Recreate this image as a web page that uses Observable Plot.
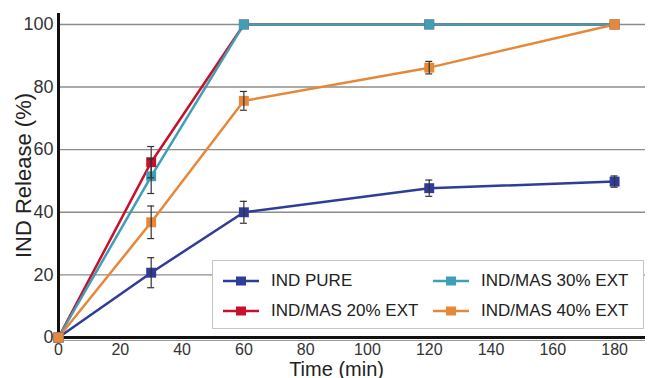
<!DOCTYPE html>
<html>
<head>
<meta charset="utf-8">
<script src="https://cdn.jsdelivr.net/npm/d3@7"></script>
<script src="https://cdn.jsdelivr.net/npm/@observablehq/plot@0.6"></script>
<style>
  body { margin: 0; background: #fff; }
  #wrap { position: relative; width: 649px; height: 378px; font-family: "Liberation Sans", Arial, Helvetica, sans-serif; }
  #legend { position: absolute; left: 212px; top: 260px; width: 432px; height: 69px; box-sizing: border-box;
    border: 1px solid #c4c4c4; background: #fff; }
  .item { position: absolute; display: flex; align-items: center; color: #222;
    font-family: "Liberation Sans Narrow", "Arial Narrow", "Liberation Sans", Arial, sans-serif; font-size: 17px; }
  .item svg { margin-right: 12px; }
</style>
</head>
<body>
<div id="wrap"><div id="chart"></div><div id="legend"></div></div>
<script>
const times = [0, 30, 60, 120, 180];
const seriesNames = ["IND PURE", "IND/MAS 20% EXT", "IND/MAS 30% EXT", "IND/MAS 40% EXT"];
const seriesColors = ["#2f3c98", "#c8102e", "#3f9fb7", "#e6883a"];
const pureValues = [0, 20.7, 40.0, 47.7, 49.8];
const pureErrors = [0, 4.8, 3.5, 2.6, 1.8];
const mas20Values = [0, 56.0, 100, 100, 100];
const mas20Errors = [0, 5.0, 0, 0, 0];
const mas30Values = [0, 51.5, 100, 100, 100];
const mas30Errors = [0, 5.5, 0, 0, 0];
const mas40Values = [0, 36.8, 75.6, 86.2, 100];
const mas40Errors = [0, 5.2, 3.0, 2.0, 0];
const yTicks = [0, 20, 40, 60, 80, 100];
const xTicks = [0, 20, 40, 60, 80, 100, 120, 140, 160, 180];
const xLabel = "Time (min)";
const yLabel = "IND Release (%)";

const valueSets = [pureValues, mas20Values, mas30Values, mas40Values];
const errorSets = [pureErrors, mas20Errors, mas30Errors, mas40Errors];
const data = [];
seriesNames.forEach((s, i) => times.forEach((t, j) =>
  data.push({series: s, time: t, value: valueSets[i][j], err: errorSets[i][j]})));
const errData = data.filter(d => d.err > 0);

const font = "Liberation Sans, Arial, Helvetica, sans-serif";
const chart = Plot.plot({
  width: 649, height: 378,
  marginLeft: 58, marginRight: 4, marginTop: 13, marginBottom: 41,
  style: {fontFamily: font, color: "#333", background: "#fff", overflow: "visible"},
  x: {domain: [0, 190]},
  y: {domain: [0, 103.5]},
  color: {domain: seriesNames, range: seriesColors},
  marks: [
    Plot.ruleY(yTicks.filter(d => d > 0), {stroke: "#8c8c8c", strokeWidth: 1.4}),
    Plot.axisY(yTicks, {tickSize: 0, tickPadding: 5, fontSize: 18, label: null}),
    Plot.text([yLabel], {frameAnchor: "left", dx: -35, rotate: -90, textAnchor: "middle", lineAnchor: "middle", fontSize: 22, fill: "#222", text: d => d}),
    Plot.axisX(xTicks, {tickSize: 0, tickPadding: 6, fontSize: 16, label: null}),
    Plot.text([xLabel], {x: d3.mean([times[0], times[times.length - 1]]), frameAnchor: "bottom", lineAnchor: "bottom", dy: 38, fontSize: 20, fill: "#222", text: d => d}),
    Plot.ruleY([0], {stroke: "#999", strokeWidth: 1, dy: 3}),
    Plot.ruleY([0], {stroke: "#111", strokeWidth: 3}),
    Plot.ruleX([0], {stroke: "#111", strokeWidth: 3, y1: 0, y2: 103.5}),
    Plot.line(data, {x: "time", y: "value", z: "series", stroke: "series", strokeWidth: 2.5}),
    Plot.dot(data, {x: "time", y: "value", fill: "series", symbol: "square", r: 5.6, stroke: null}),
    Plot.ruleX(errData, {x: "time", y1: d => d.value - d.err, y2: d => d.value + d.err, stroke: "#333", strokeWidth: 1.2}),
    Plot.ruleY(errData, {y: d => d.value + d.err, x1: "time", x2: "time", insetLeft: -3.5, insetRight: -3.5, stroke: "#333", strokeWidth: 1.2}),
    Plot.ruleY(errData, {y: d => d.value - d.err, x1: "time", x2: "time", insetLeft: -3.5, insetRight: -3.5, stroke: "#333", strokeWidth: 1.2})
  ]
});
document.getElementById("chart").appendChild(chart);

const legend = document.getElementById("legend");
const pos = [[10, 10], [10, 40], [220, 10], [220, 40]];
seriesNames.forEach((s, i) => {
  const el = document.createElement("div");
  el.className = "item";
  el.style.left = pos[i][0] + "px";
  el.style.top = pos[i][1] + "px";
  el.innerHTML = `<svg width="36" height="12"><line x1="0" x2="36" y1="6" y2="6" stroke="${seriesColors[i]}" stroke-width="2.5"/><rect x="13" y="1.5" width="10" height="9" fill="${seriesColors[i]}"/></svg><span>${s}</span>`;
  legend.appendChild(el);
});
</script>
</body>
</html>
